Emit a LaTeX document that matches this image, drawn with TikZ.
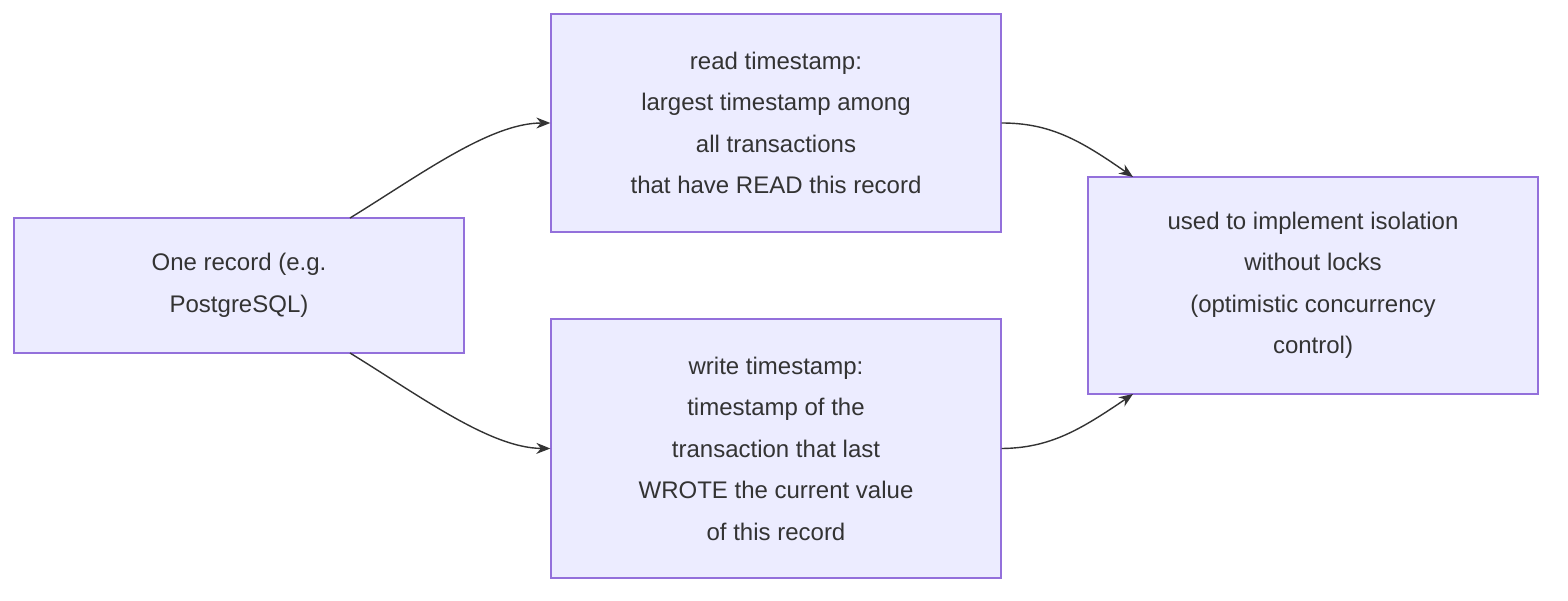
\documentclass[tikz,border=0pt]{standalone}
\usepackage{fontspec}
\setmainfont{Liberation Sans}
\usetikzlibrary{arrows.meta}
\begin{document}
\begin{tikzpicture}[x=1pt,y=-1pt,
  box/.style={draw=boxline,fill=boxfill,line width=1.3pt,inner sep=0pt,align=center,
    font=\fontsize{24}{41.5}\selectfont,text=txt},
  edge/.style={draw=txt,line width=1.4pt,-{Stealth[length=14pt,width=11pt]}}]
\definecolor{boxfill}{HTML}{ECECFF}
\definecolor{boxline}{HTML}{9370DB}
\definecolor{txt}{HTML}{333333}
\useasboundingbox (0,0) rectangle (1568,600);
\node[box,minimum width=450pt,minimum height=135pt] (A) at (239,285.5) {One record (e.g.\\PostgreSQL)};
\node[box,minimum width=450pt,minimum height=218pt] (B) at (776,123) {read timestamp:\\largest timestamp among\\all transactions\\that have READ this record};
\node[box,minimum width=450pt,minimum height=259pt] (C) at (776,448.5) {write timestamp:\\timestamp of the\\transaction that last\\WROTE the current value\\of this record};
\node[box,minimum width=450pt,minimum height=217pt] (D) at (1313,285.5) {used to implement isolation\\without locks\\(optimistic concurrency\\control)};
\coordinate (a1) at (350,218); \coordinate (a2) at (350,353);
\coordinate (d1) at (1133,177); \coordinate (d2) at (1133,394);
\draw[edge] (a1) .. controls (420,175) and (490,123) .. (B.west);
\draw[edge] (a2) .. controls (420,396) and (490,448) .. (C.west);
\draw[edge] (B.east) .. controls (1050,123) and (1080,140) .. (d1);
\draw[edge] (C.east) .. controls (1050,448) and (1080,430) .. (d2);
\end{tikzpicture}
\end{document}
